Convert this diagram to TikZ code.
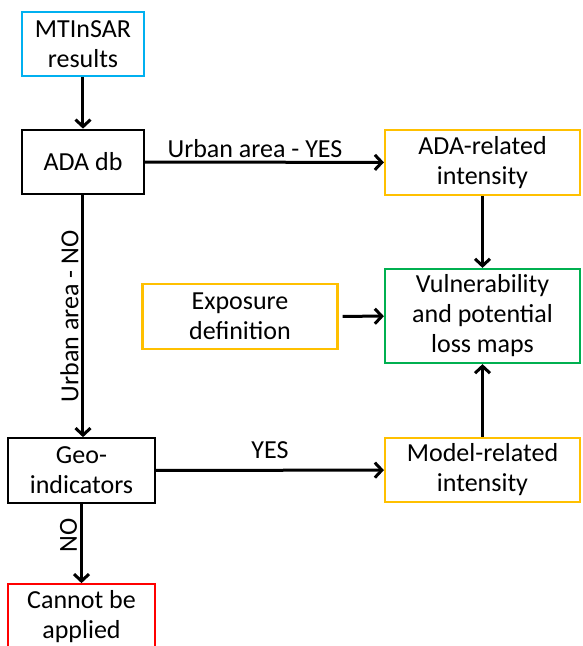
\documentclass[tikz,border=0pt]{standalone}
\usepackage{fontspec}
\setmainfont{Carlito}
\usetikzlibrary{arrows.meta}
\newlength{\du}
\setlength{\du}{15\unitlength}
\definecolor{sarblue}{RGB}{0,176,240}
\definecolor{intyellow}{RGB}{255,192,0}
\definecolor{lossgreen}{RGB}{0,176,80}
\definecolor{failred}{RGB}{255,0,0}
\tikzset{
  box/.style={draw=black, line width=2.2pt, align=center, inner sep=0pt,
    font=\fontsize{26}{30}\selectfont, minimum height=4.3\du},
  inbox/.style={box, draw=sarblue, minimum width=8.13\du},
  dbbox/.style={box, minimum width=8.13\du},
  geobox/.style={box, minimum width=9.8\du},
  intbox/.style={box, draw=intyellow, minimum width=13\du},
  lossbox/.style={box, draw=lossgreen, minimum width=13\du, minimum height=6.27\du},
  failbox/.style={box, draw=failred, minimum width=9.8\du},
  flow/.style={line width=3pt, -{Straight Barb[length=7pt,width=15pt,line width=3pt]}},
  lbl/.style={font=\fontsize{26}{30}\selectfont, inner sep=3pt}
}

\begin{document}
\begin{tikzpicture}
\pgftransformxscale{1.000000}
\pgftransformyscale{-1.000000}
\useasboundingbox (0\du,0\du) rectangle (38.8\du,43.067\du);
% boxes
\node[inbox] (insar) at (5.533\du,2.933\du) {MTInSAR\\results};
\node[dbbox] (adadb) at (5.533\du,10.8\du) {ADA db};
\node[intbox] (adaint) at (32.167\du,10.833\du) {ADA-related\\intensity};
\node[lossbox] (lossmap) at (32.167\du,21.067\du) {Vulnerability\\and potential\\loss maps};
\node[intbox] (expo) at (16.0\du,21.1\du) {Exposure\\definition};
\node[geobox] (geoind) at (5.433\du,31.367\du) {Geo-\\indicators};
\node[intbox] (modint) at (32.167\du,31.333\du) {Model-related\\intensity};
\node[failbox] (nofit) at (5.433\du,41.1\du) {Cannot be\\applied};
% connectors
\draw[flow] (insar) -- (adadb);
\draw[flow] (adadb) -- node[lbl, pos=0.46, above] {Urban area - YES} (adaint);
\draw[flow] (adadb.south) -- node[lbl, midway, rotate=90, above] {Urban area - NO} (adadb.south |- geoind.north);
\draw[flow] (adaint) -- (lossmap);
\draw[flow, shorten <=4pt] (expo) -- (lossmap);
\draw[flow] (geoind) -- node[lbl, midway, above, yshift=7pt] {YES} (modint);
\draw[flow] (modint) -- (lossmap);
\draw[flow] (geoind) -- node[lbl, pos=0.4, rotate=90, above] {NO} (nofit);
\end{tikzpicture}
\end{document}
